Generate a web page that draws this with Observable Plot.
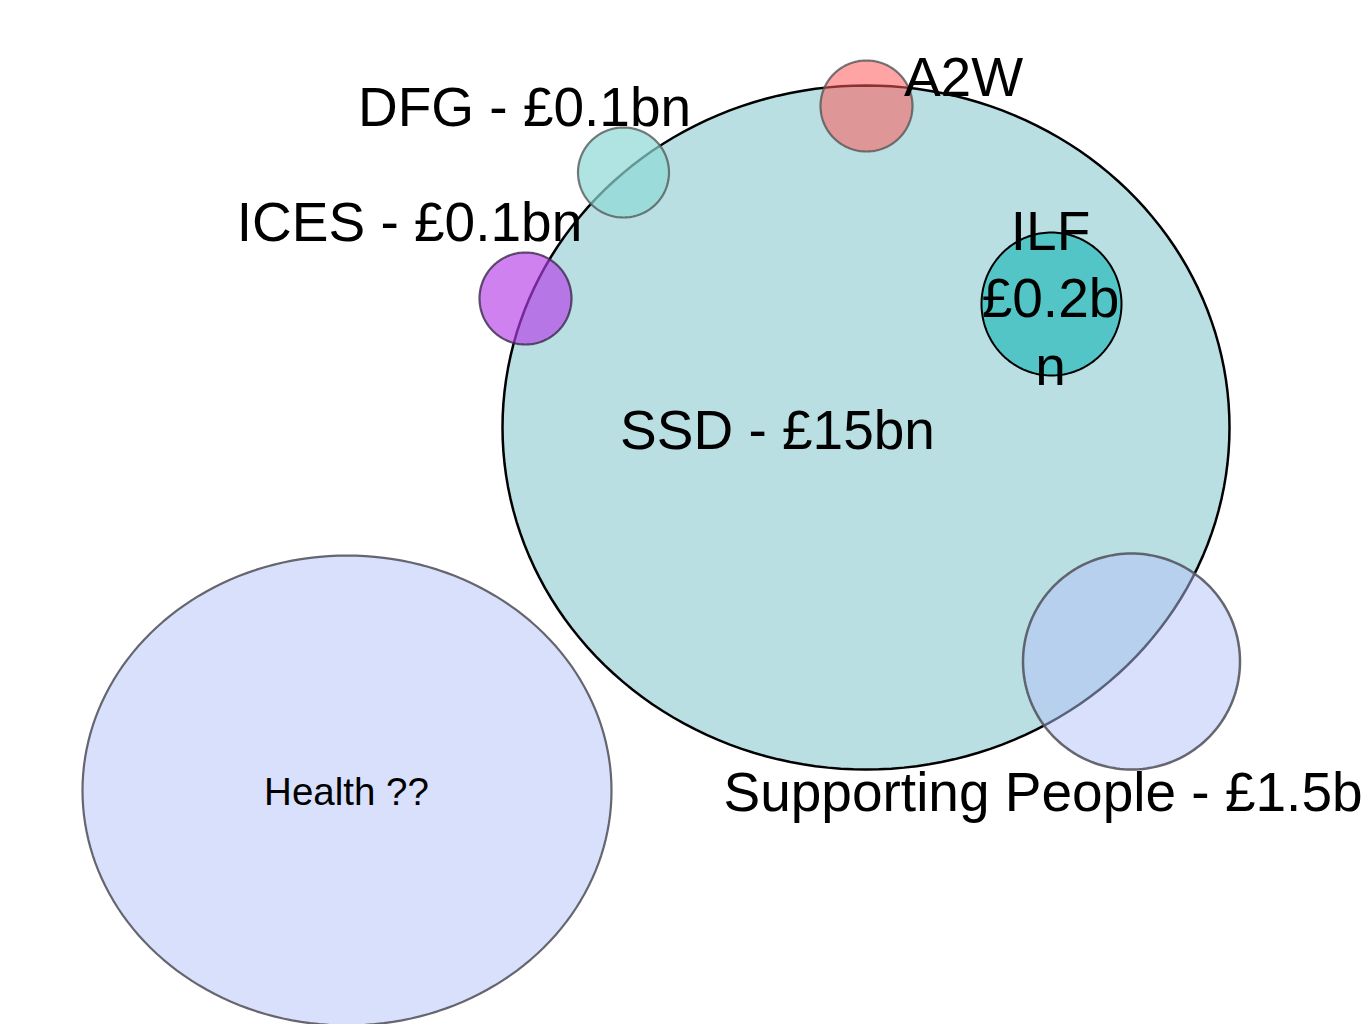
<!DOCTYPE html>
<html>
<head>
<meta charset="utf-8">
<script src="https://cdn.jsdelivr.net/npm/d3@7"></script>
<script src="https://cdn.jsdelivr.net/npm/@observablehq/plot@0.6"></script>
<style>
  html, body { margin: 0; padding: 0; background: #ffffff; overflow: hidden; }
  #chart svg { display: block; }
</style>
</head>
<body>
<div id="chart"></div>
<script>
// Shapes (diagram units: 1365 x 1024 slide space), drawn in this order
const shapeNames = ["SSD", "ILF", "Supporting People", "Health", "DFG", "ICES", "A2W"];
const shapeCx    = [865.5, 1051, 1131, 346.5, 623, 525, 866];
const shapeCy    = [427, 303.5, 661, 790, 172, 298, 105.5];
const shapeRx    = [363.5, 70, 108.5, 264.5, 45.5, 46, 46];
const shapeRy    = [342, 71.5, 108, 235, 45, 46, 45.5];

// Labels
const labelText   = ["DFG - £0.1bn", "ICES - £0.1bn", "A2W", "ILF\n£0.2b\nn", "SSD - £15bn", "Supporting People - £1.5bn", "Health ??"];
const labelX      = [524, 409, 963, 1050, 777, 723, 346];
const labelY      = [125, 240, 95, 384, 448, 810, 804];

// Styles (kept separate from data)
const fillColors   = ["#b9dfe3", "#4ec3c4", "#b3c1f7", "#d9e0fb", "#8fd8d6", "#b43ee6", "#ff5a5a"];
const fillOpacity  = [1, 0.95, 0.5, 1, 0.7, 0.65, 0.55];
const strokeColors = ["#000000", "#000000", "#55565f", "#55565f", "#555a5a", "#3a2a4a", "#555555"];
const strokeWidths = [2.5, 2, 2.5, 2.2, 2.2, 2.2, 2.2];
const strokeOpac   = [1, 1, 0.9, 0.9, 0.8, 0.8, 0.8];
const labelAnchor  = ["middle", "middle", "middle", "middle", "middle", "start", "middle"];
const labelSize    = [55, 55, 55, 55, 55, 55, 38.5];

// Build outline tables from the shape arrays
const angles = d3.range(0, 360, 2);
const outlines = shapeNames.map((name, i) =>
  angles.map(a => ({
    name,
    x: shapeCx[i] + shapeRx[i] * Math.cos(a * Math.PI / 180),
    y: shapeCy[i] + shapeRy[i] * Math.sin(a * Math.PI / 180)
  }))
);

const labels = labelText.map((t, i) => ({ text: t, x: labelX[i], y: labelY[i], i }));

const marks = [];
outlines.forEach((rows, i) => {
  marks.push(Plot.line(rows, {
    x: "x", y: "y",
    curve: "linear-closed",
    fill: fillColors[i],
    fillOpacity: fillOpacity[i],
    stroke: strokeColors[i],
    strokeWidth: strokeWidths[i],
    strokeOpacity: strokeOpac[i]
  }));
});
labels.forEach((d) => {
  marks.push(Plot.text([d], {
    x: "x", y: "y", text: "text",
    textAnchor: labelAnchor[d.i],
    lineAnchor: "bottom",
    lineHeight: 1.22,
    fontSize: labelSize[d.i],
    fill: "#000000"
  }));
});

const chart = Plot.plot({
  width: 1365,
  height: 1024,
  margin: 0,
  style: { fontFamily: "'Liberation Sans', Arial, sans-serif", background: "#ffffff", overflow: "hidden" },
  x: { domain: [0, 1365], range: [0, 1365], axis: null },
  y: { domain: [0, 1024], range: [0, 1024], axis: null },
  marks
});
document.getElementById("chart").appendChild(chart);
</script>
</body>
</html>
